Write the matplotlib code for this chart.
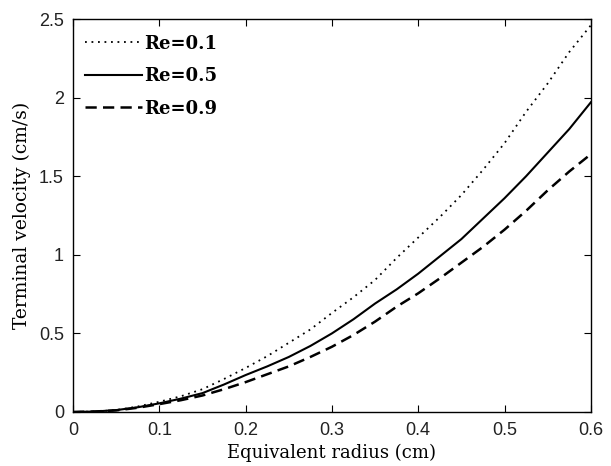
"""Terminal velocity against equivalent radius for three Reynolds numbers."""

import matplotlib

matplotlib.use("Agg")
import matplotlib.pyplot as plt

# Values.
radius = [0, 0.025, 0.05, 0.075, 0.1, 0.125, 0.15, 0.175, 0.2, 0.225, 0.25,
          0.275, 0.3, 0.325, 0.35, 0.375, 0.4, 0.425, 0.45, 0.475, 0.5,
          0.525, 0.55, 0.575, 0.6]
vel_re01 = [0, 0.003, 0.012, 0.035, 0.065, 0.10, 0.145, 0.21, 0.28, 0.355,
            0.44, 0.525, 0.63, 0.73, 0.84, 0.98, 1.11, 1.24, 1.38, 1.54,
            1.71, 1.91, 2.09, 2.29, 2.46]
vel_re05 = [0, 0.003, 0.012, 0.03, 0.055, 0.085, 0.12, 0.175, 0.235, 0.29,
            0.35, 0.42, 0.50, 0.59, 0.69, 0.78, 0.88, 0.99, 1.10, 1.23,
            1.36, 1.50, 1.65, 1.80, 1.97]
vel_re09 = [0, 0.003, 0.01, 0.027, 0.05, 0.075, 0.105, 0.145, 0.19, 0.24,
            0.29, 0.35, 0.415, 0.49, 0.575, 0.67, 0.755, 0.85, 0.95, 1.05,
            1.16, 1.28, 1.41, 1.53, 1.64]
labels = ["Re=0.1", "Re=0.5", "Re=0.9"]

x_ticks = [0, 0.1, 0.2, 0.3, 0.4, 0.5, 0.6]
x_tick_labels = ["0", "0.1", "0.2", "0.3", "0.4", "0.5", "0.6"]
y_ticks = [0, 0.5, 1, 1.5, 2, 2.5]
y_tick_labels = ["0", "0.5", "1", "1.5", "2", "2.5"]

# Wide serif face matches the stretched Times of the original better.
serif = ["DejaVu Serif"]
sans = ["Liberation Sans", "DejaVu Sans"]

fig = plt.figure(figsize=(6.11, 4.66), dpi=100)
ax = fig.add_axes([0.1195, 0.1159, 0.8475, 0.8433])

ax.plot(radius, vel_re01, color="black", linewidth=1.3,
        linestyle=(0, (1, 2.6)), label=labels[0])
ax.plot(radius, vel_re05, color="black", linewidth=1.5,
        linestyle="-", label=labels[1])
ax.plot(radius, vel_re09, color="black", linewidth=1.8,
        linestyle=(0, (4.5, 2.5)), label=labels[2])

ax.set_xlim(0, 0.6)
ax.set_ylim(0, 2.5)
ax.set_xticks(x_ticks)
ax.set_xticklabels(x_tick_labels, family=sans, fontsize=13, color="#222222")
ax.set_yticks(y_ticks)
ax.set_yticklabels(y_tick_labels, family=sans, fontsize=13, color="#222222")
ax.tick_params(direction="in", length=5, width=0.8, top=True, right=True)
ax.tick_params(axis="x", pad=7)
ax.tick_params(axis="y", pad=6.5)
for side in ax.spines.values():
    side.set_linewidth(1.0)

ax.set_xlabel("Equivalent radius (cm)", family=serif, fontsize=13,
              labelpad=3.5)
ax.set_ylabel("Terminal velocity (cm/s)", family=serif, fontsize=13.5,
              labelpad=5.5)

ax.legend(loc="upper left", bbox_to_anchor=(0.0093, 0.9786), frameon=False,
          handlelength=3.15, handletextpad=0.1, labelspacing=0.8,
          borderaxespad=0,
          prop={"family": serif, "weight": "bold", "size": 13})

fig.savefig("out.png", dpi=100)
